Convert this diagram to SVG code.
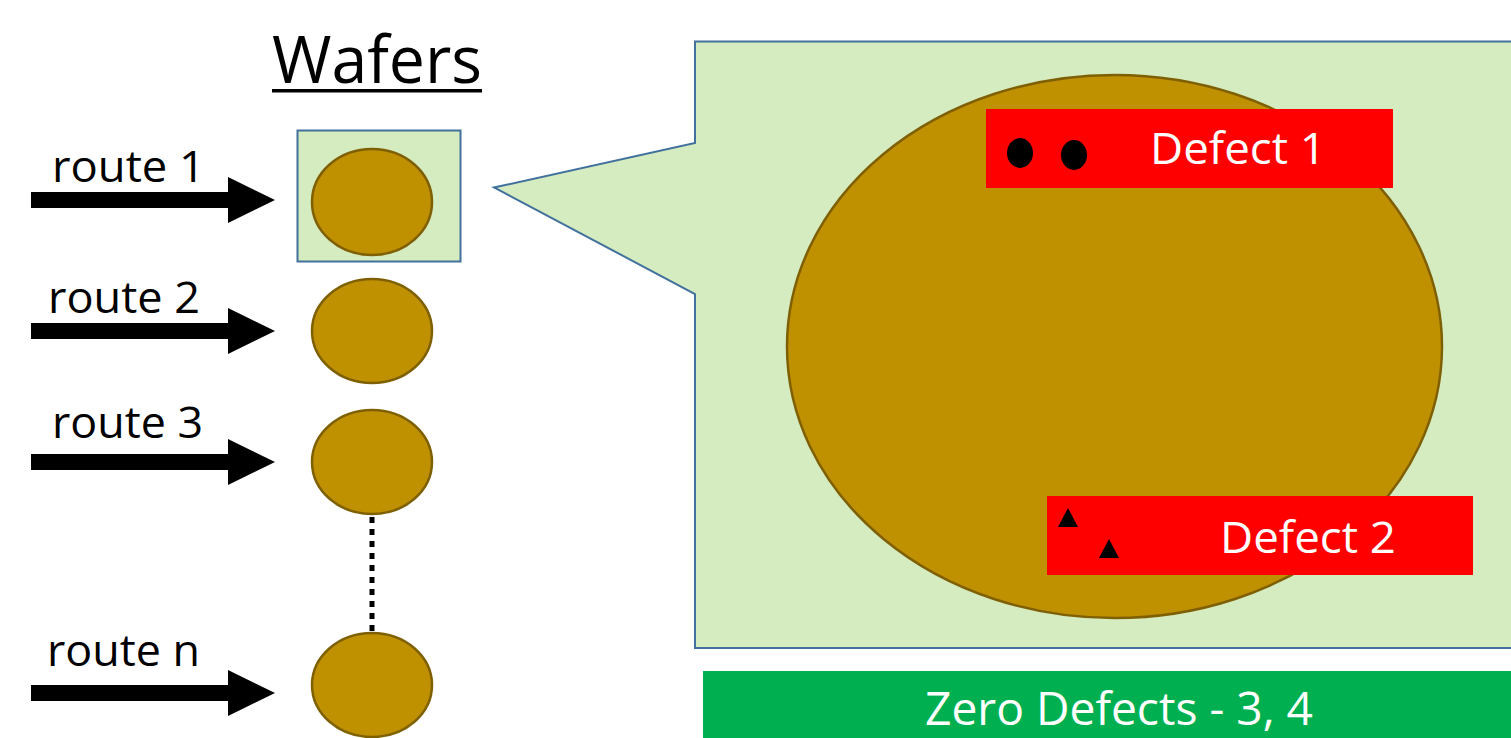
<svg xmlns="http://www.w3.org/2000/svg" width="1511" height="738" viewBox="0 0 1511 738">
  <style>
    .lbl { font-family: "Open Sans", "Noto Sans", "Liberation Sans", sans-serif; fill: #000; }
    .wlbl { font-family: "Open Sans", "Noto Sans", "Liberation Sans", sans-serif; fill: #fff; }
    .wafer { fill: #bf9000; stroke: #7f6000; stroke-width: 2.5; }
    .panel { fill: #d5ebc0; stroke: #41719c; stroke-width: 2; }
    .arrow { fill: #000; }
  </style>
  <defs>
    <!-- thick block arrow pointing right, tip at origin -->
    <path id="blockArrow" d="M -244 -8 L -47 -8 L -47 -23 L 0 0 L -47 23 L -47 8 L -244 8 Z"/>
    <path id="tri" d="M 0 -10 L 10 9 L -10 9 Z"/>
  </defs>

  <rect width="1511" height="738" fill="#fff"/>

  <!-- title -->
  <g id="title">
    <text class="lbl" x="272" y="83" font-size="66" textLength="210" lengthAdjust="spacingAndGlyphs">Wafers</text>
    <rect x="272" y="89" width="210" height="3.5" fill="#000"/>
  </g>

  <!-- route arrows -->
  <g id="connectors">
    <use href="#blockArrow" class="arrow" x="275" y="200"/>
    <use href="#blockArrow" class="arrow" x="275" y="331"/>
    <use href="#blockArrow" class="arrow" x="275" y="462"/>
    <use href="#blockArrow" class="arrow" x="275" y="693"/>
    <line x1="372" y1="517" x2="372" y2="633" stroke="#000" stroke-width="5" stroke-dasharray="6 6"/>
  </g>

  <g id="route1"><text class="lbl" x="52" y="182" font-size="43" textLength="153" lengthAdjust="spacingAndGlyphs">route 1</text></g>
  <g id="route2"><text class="lbl" x="48" y="313" font-size="43" textLength="152" lengthAdjust="spacingAndGlyphs">route 2</text></g>
  <g id="route3"><text class="lbl" x="52" y="438" font-size="43" textLength="151" lengthAdjust="spacingAndGlyphs">route 3</text></g>
  <g id="routeN"><text class="lbl" x="47" y="666" font-size="43" textLength="153" lengthAdjust="spacingAndGlyphs">route n</text></g>

  <!-- wafers -->
  <g id="wafer1">
    <rect class="panel" x="297.5" y="130.5" width="163" height="131"/>
    <ellipse class="wafer" cx="372" cy="202" rx="60" ry="53"/>
  </g>
  <g id="wafer2"><ellipse class="wafer" cx="372" cy="331" rx="60" ry="52"/></g>
  <g id="wafer3"><ellipse class="wafer" cx="372" cy="462" rx="60" ry="52"/></g>
  <g id="waferN"><ellipse class="wafer" cx="372" cy="685" rx="60" ry="52"/></g>

  <!-- enlarged wafer callout -->
  <g id="callout">
    <path class="panel" d="M 695 41.5 L 1513 41.5 L 1513 648 L 695 648 L 695 294 L 494 187.5 L 695 143 Z"/>
    <ellipse class="wafer" cx="1114.5" cy="346.5" rx="327.5" ry="271.5" stroke-width="2"/>
  </g>

  <g id="defect1">
    <rect x="986" y="109" width="407" height="79" fill="#ff0000"/>
    <ellipse cx="1020" cy="153" rx="13" ry="15" fill="#000"/>
    <ellipse cx="1074" cy="155" rx="13" ry="15" fill="#000"/>
    <text class="wlbl" x="1150" y="164" font-size="44" textLength="176" lengthAdjust="spacingAndGlyphs">Defect 1</text>
  </g>

  <g id="defect2">
    <rect x="1047" y="496" width="426" height="79" fill="#ff0000"/>
    <use href="#tri" x="1068" y="518" fill="#000"/>
    <use href="#tri" x="1109" y="549" fill="#000"/>
    <text class="wlbl" x="1220" y="553" font-size="44" textLength="176" lengthAdjust="spacingAndGlyphs">Defect 2</text>
  </g>

  <g id="zeroDefects">
    <rect x="703" y="671" width="810" height="69" fill="#00b050"/>
    <text class="wlbl" x="925" y="725" font-size="46" textLength="388" lengthAdjust="spacingAndGlyphs">Zero Defects - 3, 4</text>
  </g>
</svg>
